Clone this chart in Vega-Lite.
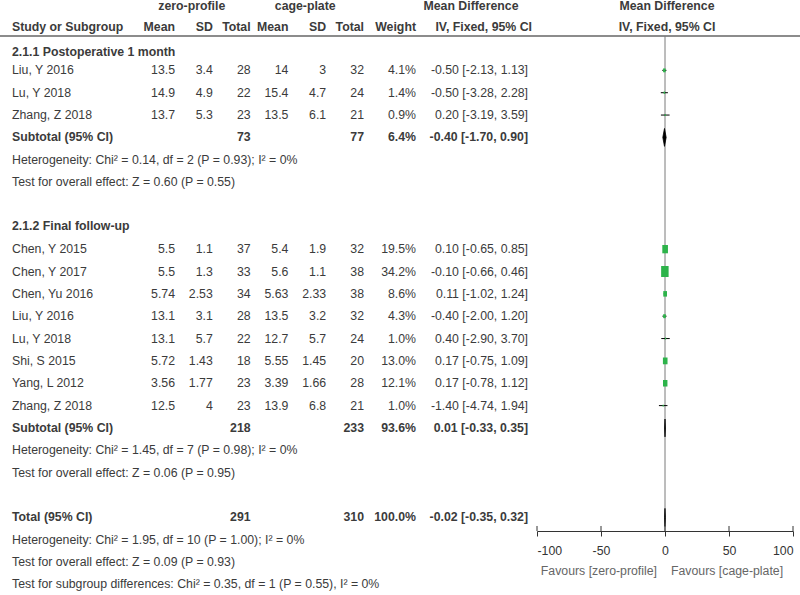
{
  "$schema": "https://vega.github.io/schema/vega-lite/v6.json",
  "width": 800,
  "height": 531,
  "autosize": {"type": "none"},
  "padding": {"left": 0, "top": 0, "right": 0, "bottom": 64},
  "background": "white",
  "config": {
    "view": {"stroke": null},
    "text": {"font": "Liberation Sans", "fontSize": 12.3, "color": "#3b3b3b"},
    "axis": {"labelFont": "Liberation Sans"}
  },
  "datasets": {
    "rows": [
      {"kind": "study", "row": 3, "study": "Liu, Y 2016", "m1": 13.5, "sd1": 3.4, "n1": 28, "m2": 14, "sd2": 3, "n2": 32, "w": 4.1, "md": -0.5, "lo": -2.13, "hi": 1.13, "ci": "-0.50 [-2.13, 1.13]"},
      {"kind": "study", "row": 4, "study": "Lu, Y 2018", "m1": 14.9, "sd1": 4.9, "n1": 22, "m2": 15.4, "sd2": 4.7, "n2": 24, "w": 1.4, "md": -0.5, "lo": -3.28, "hi": 2.28, "ci": "-0.50 [-3.28, 2.28]"},
      {"kind": "study", "row": 5, "study": "Zhang, Z 2018", "m1": 13.7, "sd1": 5.3, "n1": 23, "m2": 13.5, "sd2": 6.1, "n2": 21, "w": 0.9, "md": 0.2, "lo": -3.19, "hi": 3.59, "ci": "0.20 [-3.19, 3.59]"},
      {"kind": "subtotal", "row": 6, "study": "Subtotal (95% CI)", "n1": 73, "n2": 77, "w": 6.4, "md": -0.4, "lo": -1.7, "hi": 0.9, "ci": "-0.40 [-1.70, 0.90]"},
      {"kind": "study", "row": 11, "study": "Chen, Y 2015", "m1": 5.5, "sd1": 1.1, "n1": 37, "m2": 5.4, "sd2": 1.9, "n2": 32, "w": 19.5, "md": 0.1, "lo": -0.65, "hi": 0.85, "ci": "0.10 [-0.65, 0.85]"},
      {"kind": "study", "row": 12, "study": "Chen, Y 2017", "m1": 5.5, "sd1": 1.3, "n1": 33, "m2": 5.6, "sd2": 1.1, "n2": 38, "w": 34.2, "md": -0.1, "lo": -0.66, "hi": 0.46, "ci": "-0.10 [-0.66, 0.46]"},
      {"kind": "study", "row": 13, "study": "Chen, Yu 2016", "m1": 5.74, "sd1": 2.53, "n1": 34, "m2": 5.63, "sd2": 2.33, "n2": 38, "w": 8.6, "md": 0.11, "lo": -1.02, "hi": 1.24, "ci": "0.11 [-1.02, 1.24]"},
      {"kind": "study", "row": 14, "study": "Liu, Y 2016", "m1": 13.1, "sd1": 3.1, "n1": 28, "m2": 13.5, "sd2": 3.2, "n2": 32, "w": 4.3, "md": -0.4, "lo": -2.0, "hi": 1.2, "ci": "-0.40 [-2.00, 1.20]"},
      {"kind": "study", "row": 15, "study": "Lu, Y 2018", "m1": 13.1, "sd1": 5.7, "n1": 22, "m2": 12.7, "sd2": 5.7, "n2": 24, "w": 1.0, "md": 0.4, "lo": -2.9, "hi": 3.7, "ci": "0.40 [-2.90, 3.70]"},
      {"kind": "study", "row": 16, "study": "Shi, S 2015", "m1": 5.72, "sd1": 1.43, "n1": 18, "m2": 5.55, "sd2": 1.45, "n2": 20, "w": 13.0, "md": 0.17, "lo": -0.75, "hi": 1.09, "ci": "0.17 [-0.75, 1.09]"},
      {"kind": "study", "row": 17, "study": "Yang, L 2012", "m1": 3.56, "sd1": 1.77, "n1": 23, "m2": 3.39, "sd2": 1.66, "n2": 28, "w": 12.1, "md": 0.17, "lo": -0.78, "hi": 1.12, "ci": "0.17 [-0.78, 1.12]"},
      {"kind": "study", "row": 18, "study": "Zhang, Z 2018", "m1": 12.5, "sd1": 4, "n1": 23, "m2": 13.9, "sd2": 6.8, "n2": 21, "w": 1.0, "md": -1.4, "lo": -4.74, "hi": 1.94, "ci": "-1.40 [-4.74, 1.94]"},
      {"kind": "subtotal", "row": 19, "study": "Subtotal (95% CI)", "n1": 218, "n2": 233, "w": 93.6, "md": 0.01, "lo": -0.33, "hi": 0.35, "ci": "0.01 [-0.33, 0.35]"},
      {"kind": "total", "row": 23, "study": "Total (95% CI)", "n1": 291, "n2": 310, "w": 100.0, "md": -0.02, "lo": -0.35, "hi": 0.32, "ci": "-0.02 [-0.35, 0.32]"}
    ],
    "notes": [
      {"kind": "section", "row": 2.2, "text": "2.1.1 Postoperative 1 month"},
      {"kind": "note", "row": 7, "text": "Heterogeneity: Chi² = 0.14, df = 2 (P = 0.93); I² = 0%"},
      {"kind": "note", "row": 8, "text": "Test for overall effect: Z = 0.60 (P = 0.55)"},
      {"kind": "section", "row": 9.95, "text": "2.1.2 Final follow-up"},
      {"kind": "note", "row": 20, "text": "Heterogeneity: Chi² = 1.45, df = 7 (P = 0.98); I² = 0%"},
      {"kind": "note", "row": 21, "text": "Test for overall effect: Z = 0.06 (P = 0.95)"},
      {"kind": "note", "row": 24, "text": "Heterogeneity: Chi² = 1.95, df = 10 (P = 1.00); I² = 0%"},
      {"kind": "note", "row": 25, "text": "Test for overall effect: Z = 0.09 (P = 0.93)"},
      {"kind": "note", "row": 26, "text": "Test for subgroup differences: Chi² = 0.35, df = 1 (P = 0.55), I² = 0%"}
    ],
    "heads": [
      {"level": 1, "row": 0.12, "col": "sd1", "text": "zero-profile"},
      {"level": 1, "row": 0.12, "col": "sd2", "text": "cage-plate"},
      {"level": 1, "row": 0.12, "col": "ci", "text": "Mean Difference"},
      {"level": 1, "row": 0.12, "col": "plot", "text": "Mean Difference"},
      {"level": 2, "row": 1.05, "col": "study", "text": "Study or Subgroup"},
      {"level": 2, "row": 1.05, "col": "m1", "text": "Mean"},
      {"level": 2, "row": 1.05, "col": "sd1", "text": "SD"},
      {"level": 2, "row": 1.05, "col": "n1", "text": "Total"},
      {"level": 2, "row": 1.05, "col": "m2", "text": "Mean"},
      {"level": 2, "row": 1.05, "col": "sd2", "text": "SD"},
      {"level": 2, "row": 1.05, "col": "n2", "text": "Total"},
      {"level": 2, "row": 1.05, "col": "wt", "text": "Weight"},
      {"level": 2, "row": 1.05, "col": "ci", "text": "IV, Fixed, 95% CI"},
      {"level": 2, "row": 1.05, "col": "plot", "text": "IV, Fixed, 95% CI"}
    ],
    "ticks": [{"t": -100}, {"t": -50}, {"t": 0}, {"t": 50}, {"t": 100}],
    "favours": [
      {"side": "left", "text": "Favours [zero-profile]"},
      {"side": "right", "text": "Favours [cage-plate]"}
    ]
  },
  "resolve": {"scale": {"x": "independent"}},
  "layer": [
    {
      "layer": [
        {
          "data": {"name": "rows"},
          "transform": [{"filter": "datum.kind == 'study'"}, {"fold": ["m1", "sd1", "n1", "m2", "sd2", "n2"], "as": ["col", "val"]}],
          "mark": {"type": "text", "align": "right"},
          "encoding": {
            "x": {"field": "col", "type": "nominal", "scale": {"type": "point", "domain": ["m1", "sd1", "n1", "m2", "sd2", "n2"], "range": [175, 364], "padding": 0}, "axis": null},
            "y": {"field": "row", "type": "quantitative", "scale": {"domain": [-0.148, 23.611], "nice": false, "zero": false, "reverse": true}, "axis": null},
            "text": {"field": "val", "type": "nominal"}
          }
        },
        {
          "data": {"name": "rows"},
          "transform": [{"filter": "datum.kind != 'study'"}, {"fold": ["n1", "n2"], "as": ["col", "val"]}],
          "mark": {"type": "text", "align": "right", "fontWeight": "bold"},
          "encoding": {
            "x": {"field": "col", "type": "nominal", "scale": {"type": "point", "domain": ["m1", "sd1", "n1", "m2", "sd2", "n2"], "range": [175, 364], "padding": 0}, "axis": null},
            "y": {"field": "row", "type": "quantitative", "scale": {"domain": [-0.148, 23.611], "nice": false, "zero": false, "reverse": true}, "axis": null},
            "text": {"field": "val", "type": "nominal"}
          }
        },
        {
          "data": {"name": "heads"},
          "transform": [{"filter": "datum.level == 2 && indexof(['m1','sd1','n1','m2','sd2','n2'], datum.col) >= 0"}],
          "mark": {"type": "text", "align": "right", "fontWeight": "bold"},
          "encoding": {
            "x": {"field": "col", "type": "nominal", "scale": {"type": "point", "domain": ["m1", "sd1", "n1", "m2", "sd2", "n2"], "range": [175, 364], "padding": 0}, "axis": null},
            "y": {"field": "row", "type": "quantitative", "scale": {"domain": [-0.148, 23.611], "nice": false, "zero": false, "reverse": true}, "axis": null},
            "text": {"field": "text", "type": "nominal"}
          }
        },
        {
          "data": {"name": "heads"},
          "transform": [{"filter": "datum.level == 1 && (datum.col == 'sd1' || datum.col == 'sd2')"}],
          "mark": {"type": "text", "align": "center", "fontWeight": "bold", "dx": -21},
          "encoding": {
            "x": {"field": "col", "type": "nominal", "scale": {"type": "point", "domain": ["m1", "sd1", "n1", "m2", "sd2", "n2"], "range": [175, 364], "padding": 0}, "axis": null},
            "y": {"field": "row", "type": "quantitative", "scale": {"domain": [-0.148, 23.611], "nice": false, "zero": false, "reverse": true}, "axis": null},
            "text": {"field": "text", "type": "nominal"}
          }
        }
      ]
    },
    {
      "layer": [
        {
          "data": {"name": "rows"},
          "transform": [{"filter": "datum.kind == 'study'"}, {"calculate": "format(datum.w, '.1f') + '%'", "as": "wt"}, {"fold": ["wt", "ci"], "as": ["col", "val"]}],
          "mark": {"type": "text", "align": "right"},
          "encoding": {
            "x": {"field": "col", "type": "nominal", "scale": {"type": "point", "domain": ["wt", "ci"], "range": [416, 528], "padding": 0}, "axis": null},
            "y": {"field": "row", "type": "quantitative", "scale": {"domain": [-0.148, 23.611], "nice": false, "zero": false, "reverse": true}, "axis": null},
            "text": {"field": "val", "type": "nominal"}
          }
        },
        {
          "data": {"name": "rows"},
          "transform": [{"filter": "datum.kind != 'study'"}, {"calculate": "format(datum.w, '.1f') + '%'", "as": "wt"}, {"fold": ["wt", "ci"], "as": ["col", "val"]}],
          "mark": {"type": "text", "align": "right", "fontWeight": "bold"},
          "encoding": {
            "x": {"field": "col", "type": "nominal", "scale": {"type": "point", "domain": ["wt", "ci"], "range": [416, 528], "padding": 0}, "axis": null},
            "y": {"field": "row", "type": "quantitative", "scale": {"domain": [-0.148, 23.611], "nice": false, "zero": false, "reverse": true}, "axis": null},
            "text": {"field": "val", "type": "nominal"}
          }
        },
        {
          "data": {"name": "heads"},
          "transform": [{"filter": "datum.level == 2 && datum.col == 'wt'"}],
          "mark": {"type": "text", "align": "right", "fontWeight": "bold"},
          "encoding": {
            "x": {"field": "col", "type": "nominal", "scale": {"type": "point", "domain": ["wt", "ci"], "range": [416, 528], "padding": 0}, "axis": null},
            "y": {"field": "row", "type": "quantitative", "scale": {"domain": [-0.148, 23.611], "nice": false, "zero": false, "reverse": true}, "axis": null},
            "text": {"field": "text", "type": "nominal"}
          }
        },
        {
          "data": {"name": "heads"},
          "transform": [{"filter": "datum.level == 2 && datum.col == 'ci'"}],
          "mark": {"type": "text", "align": "right", "fontWeight": "bold", "dx": 4},
          "encoding": {
            "x": {"field": "col", "type": "nominal", "scale": {"type": "point", "domain": ["wt", "ci"], "range": [416, 528], "padding": 0}, "axis": null},
            "y": {"field": "row", "type": "quantitative", "scale": {"domain": [-0.148, 23.611], "nice": false, "zero": false, "reverse": true}, "axis": null},
            "text": {"field": "text", "type": "nominal"}
          }
        },
        {
          "data": {"name": "heads"},
          "transform": [{"filter": "datum.level == 1 && datum.col == 'ci'"}],
          "mark": {"type": "text", "align": "center", "fontWeight": "bold", "dx": -57},
          "encoding": {
            "x": {"field": "col", "type": "nominal", "scale": {"type": "point", "domain": ["wt", "ci"], "range": [416, 528], "padding": 0}, "axis": null},
            "y": {"field": "row", "type": "quantitative", "scale": {"domain": [-0.148, 23.611], "nice": false, "zero": false, "reverse": true}, "axis": null},
            "text": {"field": "text", "type": "nominal"}
          }
        }
      ]
    },
    {
      "layer": [
        {
          "data": {"name": "rows"},
          "transform": [{"filter": "datum.kind == 'study'"}],
          "mark": {"type": "text", "align": "left"},
          "encoding": {
            "x": {"datum": "study", "type": "nominal", "scale": {"type": "point", "domain": ["study"], "range": [12, 12], "padding": 0}, "axis": null},
            "y": {"field": "row", "type": "quantitative", "scale": {"domain": [-0.148, 23.611], "nice": false, "zero": false, "reverse": true}, "axis": null},
            "text": {"field": "study", "type": "nominal"}
          }
        },
        {
          "data": {"name": "rows"},
          "transform": [{"filter": "datum.kind != 'study'"}],
          "mark": {"type": "text", "align": "left", "fontWeight": "bold"},
          "encoding": {
            "x": {"datum": "study", "type": "nominal", "scale": {"type": "point", "domain": ["study"], "range": [12, 12], "padding": 0}, "axis": null},
            "y": {"field": "row", "type": "quantitative", "scale": {"domain": [-0.148, 23.611], "nice": false, "zero": false, "reverse": true}, "axis": null},
            "text": {"field": "study", "type": "nominal"}
          }
        },
        {
          "data": {"name": "notes"},
          "transform": [{"filter": "datum.kind == 'note'"}],
          "mark": {"type": "text", "align": "left"},
          "encoding": {
            "x": {"datum": "study", "type": "nominal", "scale": {"type": "point", "domain": ["study"], "range": [12, 12], "padding": 0}, "axis": null},
            "y": {"field": "row", "type": "quantitative", "scale": {"domain": [-0.148, 23.611], "nice": false, "zero": false, "reverse": true}, "axis": null},
            "text": {"field": "text", "type": "nominal"}
          }
        },
        {
          "data": {"name": "notes"},
          "transform": [{"filter": "datum.kind == 'section'"}],
          "mark": {"type": "text", "align": "left", "fontWeight": "bold"},
          "encoding": {
            "x": {"datum": "study", "type": "nominal", "scale": {"type": "point", "domain": ["study"], "range": [12, 12], "padding": 0}, "axis": null},
            "y": {"field": "row", "type": "quantitative", "scale": {"domain": [-0.148, 23.611], "nice": false, "zero": false, "reverse": true}, "axis": null},
            "text": {"field": "text", "type": "nominal"}
          }
        },
        {
          "data": {"name": "heads"},
          "transform": [{"filter": "datum.col == 'study'"}],
          "mark": {"type": "text", "align": "left", "fontWeight": "bold"},
          "encoding": {
            "x": {"datum": "study", "type": "nominal", "scale": {"type": "point", "domain": ["study"], "range": [12, 12], "padding": 0}, "axis": null},
            "y": {"field": "row", "type": "quantitative", "scale": {"domain": [-0.148, 23.611], "nice": false, "zero": false, "reverse": true}, "axis": null},
            "text": {"field": "text", "type": "nominal"}
          }
        }
      ]
    },
    {
      "layer": [
        {
          "data": {"values": [{}]},
          "mark": {"type": "rule", "color": "#666666", "strokeWidth": 1.3},
          "encoding": {
            "y": {"datum": 1.463, "type": "quantitative", "scale": {"domain": [-0.148, 23.611], "nice": false, "zero": false, "reverse": true}, "axis": null}
          }
        },
        {
          "data": {"values": [{}]},
          "mark": {"type": "rule", "color": "#7a7a7a", "strokeWidth": 1},
          "encoding": {
            "x": {"datum": 0, "type": "quantitative", "scale": {"domain": [-100, 100], "range": [537, 793], "nice": false, "zero": false},
              "axis": {"orient": "bottom", "values": [-100, -50, 0, 50, 100], "labelExpr": "'' + datum.value", "title": null, "grid": false, "domainColor": "#333333", "tickColor": "#333333", "tickSize": 5, "tickWidth": 1, "domainWidth": 1, "labelFontSize": 12.3, "labelColor": "#333333", "labelPadding": 8}},
            "y": {"datum": 1.463, "type": "quantitative", "scale": {"domain": [-0.148, 23.611], "nice": false, "zero": false, "reverse": true}, "axis": null},
            "y2": {"datum": 23.611}
          }
        },
        {
          "data": {"name": "ticks"},
          "mark": {"type": "rule", "color": "#333333", "strokeWidth": 1},
          "encoding": {
            "x": {"field": "t", "type": "quantitative", "scale": {"domain": [-100, 100], "range": [537, 793], "nice": false, "zero": false}},
            "y": {"datum": 23.387, "type": "quantitative", "scale": {"domain": [-0.148, 23.611], "nice": false, "zero": false, "reverse": true}, "axis": null},
            "y2": {"datum": 23.611}
          }
        },
        {
          "data": {"name": "rows"},
          "transform": [{"filter": "datum.kind == 'study'"}],
          "mark": {"type": "rule", "color": "#000000", "strokeWidth": 1},
          "encoding": {
            "x": {"field": "lo", "type": "quantitative", "scale": {"domain": [-100, 100], "range": [537, 793], "nice": false, "zero": false}},
            "x2": {"field": "hi"},
            "y": {"field": "row", "type": "quantitative", "scale": {"domain": [-0.148, 23.611], "nice": false, "zero": false, "reverse": true}, "axis": null}
          }
        },
        {
          "data": {"name": "rows"},
          "transform": [{"filter": "datum.kind == 'study'"}],
          "mark": {"type": "point", "filled": true, "opacity": 1, "color": "#2db34a", "shape": "M-0.68,-1L0.68,-1L0.68,1L-0.68,1Z"},
          "encoding": {
            "x": {"field": "md", "type": "quantitative", "scale": {"domain": [-100, 100], "range": [537, 793], "nice": false, "zero": false}},
            "y": {"field": "row", "type": "quantitative", "scale": {"domain": [-0.148, 23.611], "nice": false, "zero": false, "reverse": true}, "axis": null},
            "size": {"field": "w", "type": "quantitative", "scale": {"domain": [0, 34.2], "range": [0, 121]}, "legend": null}
          }
        },
        {
          "data": {"name": "rows"},
          "transform": [
            {"filter": "datum.kind != 'study'"},
            {"calculate": "[{vx: datum.lo, dy: 0, vo: 0}, {vx: datum.md, dy: -0.4, vo: 1}, {vx: datum.hi, dy: 0, vo: 2}, {vx: datum.md, dy: 0.4, vo: 3}, {vx: datum.lo, dy: 0, vo: 4}]", "as": "verts"},
            {"flatten": ["verts"]},
            {"calculate": "datum.verts.vx", "as": "vx"},
            {"calculate": "datum.row + datum.verts.dy", "as": "vy"},
            {"calculate": "datum.verts.vo", "as": "vo"}
          ],
          "mark": {"type": "line", "color": "#000000", "fill": "#000000", "strokeWidth": 0.8},
          "encoding": {
            "x": {"field": "vx", "type": "quantitative", "scale": {"domain": [-100, 100], "range": [537, 793], "nice": false, "zero": false}},
            "y": {"field": "vy", "type": "quantitative", "scale": {"domain": [-0.148, 23.611], "nice": false, "zero": false, "reverse": true}, "axis": null},
            "order": {"field": "vo", "type": "quantitative"},
            "detail": {"field": "row", "type": "nominal"}
          }
        },
        {
          "data": {"name": "heads"},
          "transform": [{"filter": "datum.col == 'plot'"}],
          "mark": {"type": "text", "align": "center", "fontWeight": "bold", "dx": 2},
          "encoding": {
            "x": {"datum": 0, "type": "quantitative", "scale": {"domain": [-100, 100], "range": [537, 793], "nice": false, "zero": false}},
            "y": {"field": "row", "type": "quantitative", "scale": {"domain": [-0.148, 23.611], "nice": false, "zero": false, "reverse": true}, "axis": null},
            "text": {"field": "text", "type": "nominal"}
          }
        },
        {
          "data": {"name": "favours"},
          "transform": [{"filter": "datum.side == 'left'"}],
          "mark": {"type": "text", "align": "right", "dx": -8, "color": "#666666"},
          "encoding": {
            "x": {"datum": 0, "type": "quantitative", "scale": {"domain": [-100, 100], "range": [537, 793], "nice": false, "zero": false}},
            "y": {"datum": 25.4, "type": "quantitative", "scale": {"domain": [-0.148, 23.611], "nice": false, "zero": false, "reverse": true}, "axis": null},
            "text": {"field": "text", "type": "nominal"}
          }
        },
        {
          "data": {"name": "favours"},
          "transform": [{"filter": "datum.side == 'right'"}],
          "mark": {"type": "text", "align": "left", "dx": 6, "color": "#666666"},
          "encoding": {
            "x": {"datum": 0, "type": "quantitative", "scale": {"domain": [-100, 100], "range": [537, 793], "nice": false, "zero": false}},
            "y": {"datum": 25.4, "type": "quantitative", "scale": {"domain": [-0.148, 23.611], "nice": false, "zero": false, "reverse": true}, "axis": null},
            "text": {"field": "text", "type": "nominal"}
          }
        }
      ]
    }
  ]
}
